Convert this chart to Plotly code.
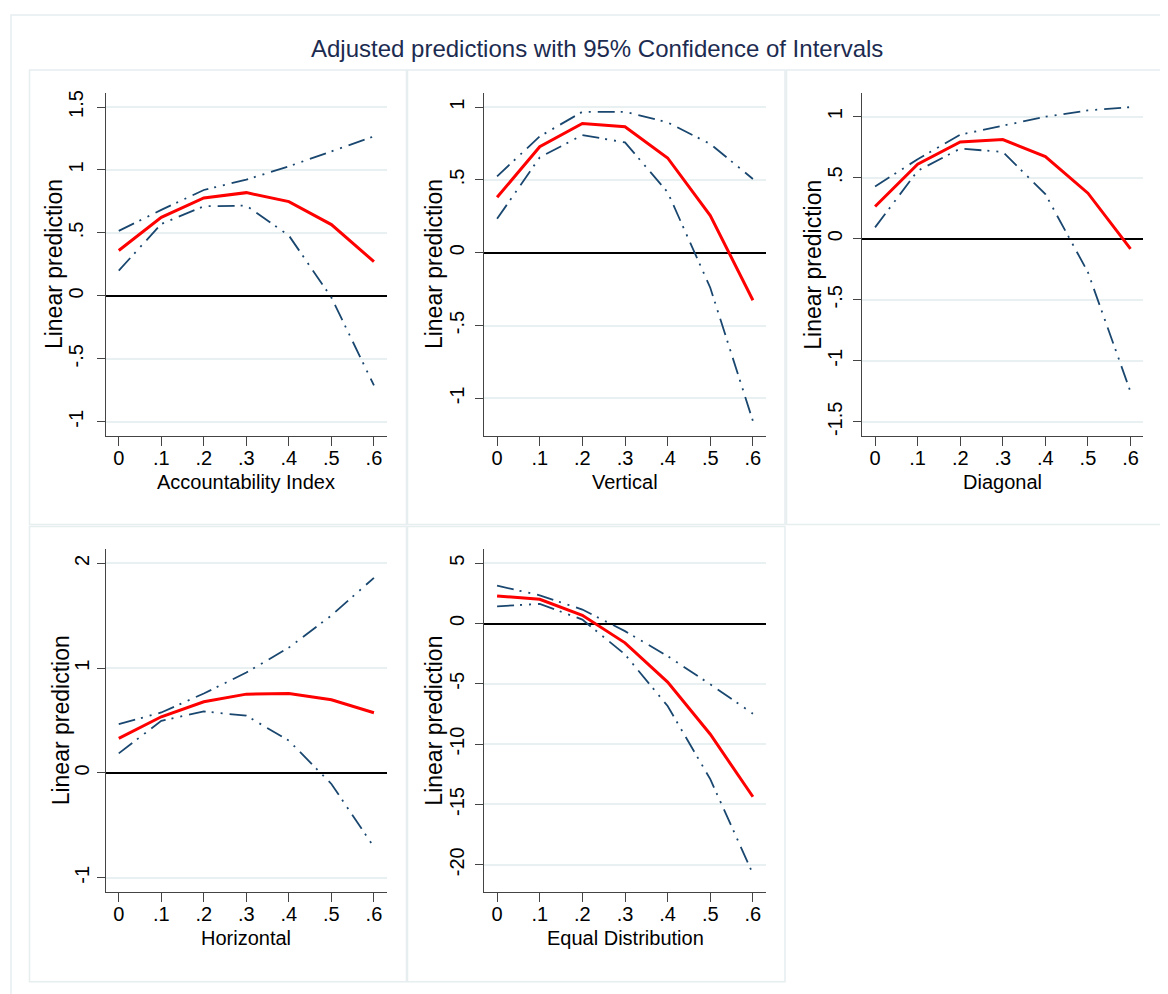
import plotly.graph_objects as go

# ---------------- data ----------------
x_vals = [0, 0.1, 0.2, 0.3, 0.4, 0.5, 0.6]
x_tick_text = ["0", ".1", ".2", ".3", ".4", ".5", ".6"]

titles = ["Accountability Index", "Vertical", "Diagonal", "Horizontal", "Equal Distribution"]

# Accountability Index
acc_pred = [0.36, 0.624, 0.778, 0.82, 0.749, 0.566, 0.272]
acc_hi = [0.516, 0.683, 0.841, 0.923, 1.029, 1.146, 1.267]
acc_lo = [0.201, 0.571, 0.712, 0.717, 0.479, -0.013, -0.712]

# Vertical
ver_pred = [0.381, 0.728, 0.888, 0.865, 0.651, 0.256, -0.326]
ver_hi = [0.525, 0.799, 0.968, 0.968, 0.895, 0.747, 0.507]
ver_lo = [0.233, 0.655, 0.808, 0.758, 0.416, -0.240, -1.155]

# Diagonal
dia_pred = [0.264, 0.610, 0.792, 0.812, 0.673, 0.373, -0.084]
dia_hi = [0.428, 0.651, 0.852, 0.923, 0.999, 1.051, 1.078]
dia_lo = [0.093, 0.556, 0.738, 0.711, 0.365, -0.275, -1.255]

# Horizontal
hor_pred = [0.330, 0.536, 0.679, 0.752, 0.758, 0.698, 0.574]
hor_hi = [0.466, 0.577, 0.758, 0.958, 1.196, 1.503, 1.862]
hor_lo = [0.187, 0.498, 0.587, 0.546, 0.308, -0.105, -0.707]

# Equal Distribution
eq_pred = [2.29, 2.01, 0.69, -1.60, -4.85, -9.18, -14.36]
eq_hi = [3.14, 2.34, 1.16, -0.63, -2.70, -5.04, -7.47]
eq_lo = [1.43, 1.63, 0.33, -2.56, -6.84, -12.90, -20.76]

y_ticks = [
    [-1, -0.5, 0, 0.5, 1, 1.5],
    [-1, -0.5, 0, 0.5, 1],
    [-1.5, -1, -0.5, 0, 0.5, 1],
    [-1, 0, 1, 2],
    [-20, -15, -10, -5, 0, 5],
]
y_tick_text = [
    ["-1", "-.5", "0", ".5", "1", "1.5"],
    ["-1", "-.5", "0", ".5", "1"],
    ["-1.5", "-1", "-.5", "0", ".5", "1"],
    ["-1", "0", "1", "2"],
    ["-20", "-15", "-10", "-5", "0", "5"],
]
y_ranges = [
    [-1.111, 1.608],
    [-1.256, 1.094],
    [-1.614, 1.19],
    [-1.136, 2.14],
    [-22.26, 6.21],
]

panels = [
    (acc_pred, acc_hi, acc_lo),
    (ver_pred, ver_hi, ver_lo),
    (dia_pred, dia_hi, dia_lo),
    (hor_pred, hor_hi, hor_lo),
    (eq_pred, eq_hi, eq_lo),
]

# ---------------- layout geometry (page pixels) ----------------
PAGE_OFF = 8                      # default body margin of the html page
W, H = 1168 - PAGE_OFF, 994 - PAGE_OFF
FONT = "Liberation Sans, Arial, sans-serif"
NAVY = "#1a476f"
GRID = "#e8f0f2"
FRAME = "#e6eef0"

# plot region boxes: (left, right, top, bottom)
plot_px = [
    (106, 386.7, 90.7, 434),
    (484.3, 765.7, 90.7, 434),
    (862.3, 1143.3, 90.7, 434),
    (106, 386.7, 547.3, 891.7),
    (484.3, 765.7, 547.3, 891.7),
]
# panel frames
frame_px = [
    (29.5, 406.5, 67.3, 523),
    (407.5, 785, 67.3, 523),
    (786.5, 1163, 67.3, 523),
    (29.5, 406.5, 525, 981.7),
    (407.5, 785, 525, 981.7),
]
ytitle_off = [52.5, 50.8, 50.1, 45, 50]
ylab_standoff = [6, 3, 3, 0, 3]


def px_x(v):
    return (v - PAGE_OFF) / W


def px_y(v):
    return 1 - (v - PAGE_OFF) / H


fig = go.Figure()
layout = dict(
    width=W,
    height=H,
    margin=dict(l=0, r=0, t=0, b=0),
    paper_bgcolor="white",
    plot_bgcolor="white",
    showlegend=False,
    font=dict(family=FONT, color="black"),
)

annotations = []
shapes = []

dash_pat = "17px,6px,2px,7px,2px,7px"

for i, (pred, hi, lo) in enumerate(panels):
    n = i + 1
    xa = "x" if n == 1 else f"x{n}"
    ya = "y" if n == 1 else f"y{n}"
    for ci in (hi, lo):
        fig.add_trace(go.Scatter(x=x_vals, y=ci, mode="lines", xaxis=xa, yaxis=ya,
                                 line=dict(color=NAVY, width=1.8, dash=dash_pat),
                                 hoverinfo="skip"))
    fig.add_trace(go.Scatter(x=x_vals, y=pred, mode="lines", xaxis=xa, yaxis=ya,
                             line=dict(color="#ff0000", width=3)))

    l, r, t, b = plot_px[i]
    xkey = "xaxis" if n == 1 else f"xaxis{n}"
    ykey = "yaxis" if n == 1 else f"yaxis{n}"
    layout[xkey] = dict(
        domain=[px_x(l), px_x(r)],
        anchor=ya,
        range=[-0.03, 0.63],
        tickvals=x_vals,
        ticktext=x_tick_text,
        ticks="outside",
        ticklen=9,
        tickwidth=1.2,
        tickcolor="#444444",
        ticklabelstandoff=-5,
        showline=True,
        linecolor="#444444",
        linewidth=1.2,
        showgrid=False,
        zeroline=False,
        tickfont=dict(size=20, family=FONT, color="black"),
        fixedrange=True,
    )
    layout[ykey] = dict(
        domain=[px_y(b), px_y(t)],
        anchor=xa,
        range=y_ranges[i],
        tickvals=y_ticks[i],
        ticktext=y_tick_text[i],
        tickangle=-90,
        ticks="outside",
        ticklen=8,
        tickwidth=1.2,
        tickcolor="#444444",
        ticklabelstandoff=ylab_standoff[i],
        showline=True,
        linecolor="#444444",
        linewidth=1.2,
        showgrid=True,
        gridcolor=GRID,
        gridwidth=2,
        zeroline=True,
        zerolinecolor="black",
        zerolinewidth=2,
        tickfont=dict(size=20, family=FONT, color="black"),
        fixedrange=True,
    )
    # axis titles
    annotations.append(dict(
        text=titles[i], xref="paper", yref="paper",
        x=px_x((l + r) / 2), y=px_y(b + 46), xanchor="center", yanchor="middle",
        showarrow=False, font=dict(size=20, family=FONT, color="black")))
    annotations.append(dict(
        text="Linear prediction", xref="paper", yref="paper", textangle=-90,
        x=px_x(l - ytitle_off[i]), y=px_y((t + b) / 2), xanchor="center", yanchor="middle",
        showarrow=False, font=dict(size=23, family=FONT, color="black")))
    fl, fr, ft, fb = frame_px[i]
    shapes.append(dict(type="rect", xref="paper", yref="paper",
                       x0=px_x(fl), x1=px_x(fr), y0=px_y(fb), y1=px_y(ft),
                       line=dict(color=FRAME, width=1.5), layer="below"))

# outer frame
shapes.append(dict(type="rect", xref="paper", yref="paper",
                   x0=px_x(11), x1=px_x(1185), y0=px_y(1010), y1=px_y(12),
                   line=dict(color=FRAME, width=1.5), layer="below"))

annotations.append(dict(
    text="Adjusted predictions with 95% Confidence of Intervals",
    xref="paper", yref="paper", x=px_x(596.5), y=px_y(46), xanchor="center", yanchor="middle",
    showarrow=False, font=dict(size=24, family=FONT, color="#1c2b50")))

layout["annotations"] = annotations
layout["shapes"] = shapes
fig.update_layout(**layout)

fig.write_html("out.html", config={"displayModeBar": False})
